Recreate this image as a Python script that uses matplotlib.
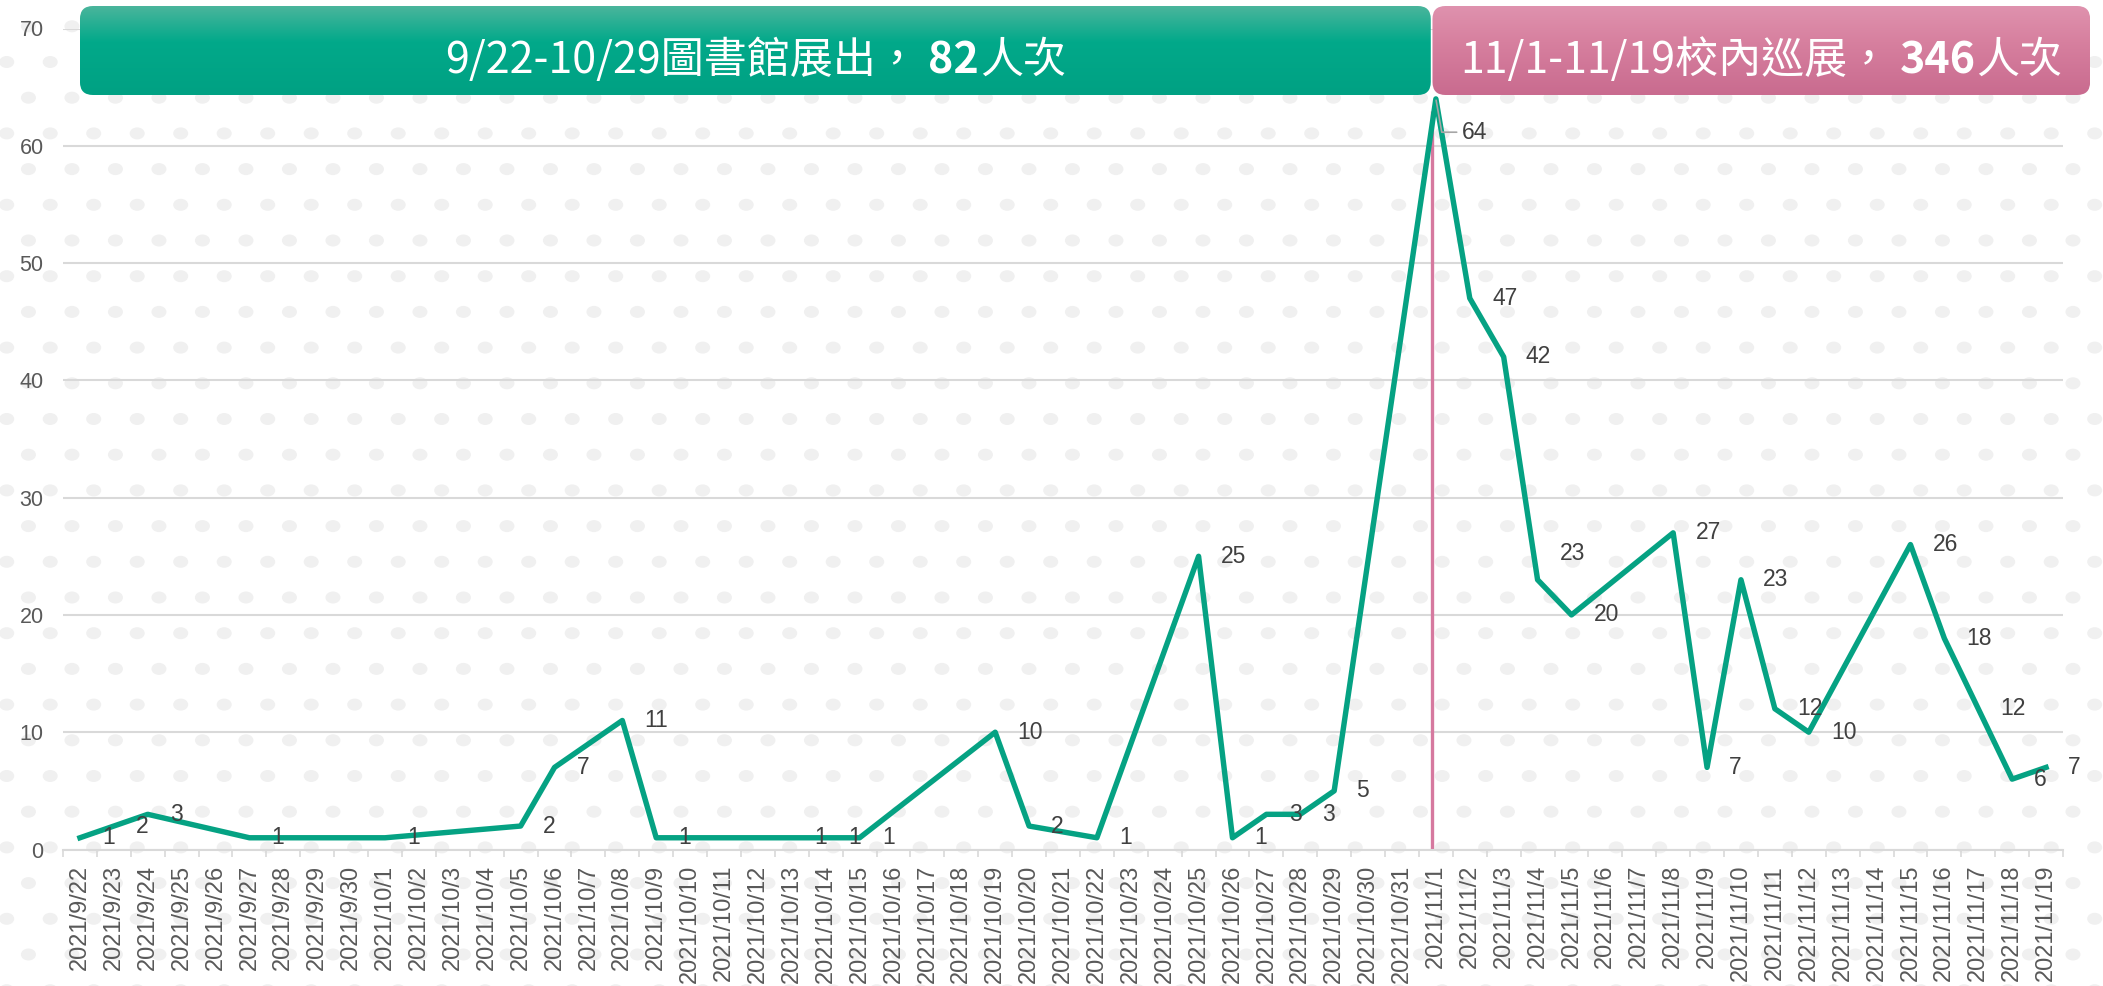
import numpy as np
import pandas as pd
import matplotlib
matplotlib.use("Agg")
import matplotlib.pyplot as plt
from matplotlib.patches import FancyBboxPatch
from matplotlib.collections import EllipseCollection
from matplotlib.colors import to_rgb

W, H = 2103, 986

# category axis: every day of the exhibition period
all_days = pd.date_range("2021-09-22", "2021-11-19", freq="D")
day_labels = [f"{d.year}/{d.month}/{d.day}" for d in all_days]

# days that have visitor counts
visit_days = ["2021/9/22", "2021/9/23", "2021/9/24", "2021/9/27", "2021/10/1",
              "2021/10/5", "2021/10/6", "2021/10/8", "2021/10/9", "2021/10/13",
              "2021/10/14", "2021/10/15", "2021/10/19", "2021/10/20", "2021/10/22",
              "2021/10/25", "2021/10/26", "2021/10/27", "2021/10/28", "2021/10/29",
              "2021/11/1", "2021/11/2", "2021/11/3", "2021/11/4", "2021/11/5",
              "2021/11/8", "2021/11/9", "2021/11/10", "2021/11/11", "2021/11/12",
              "2021/11/15", "2021/11/16", "2021/11/17", "2021/11/18", "2021/11/19"]
visits = [1, 2, 3, 1, 1,
          2, 7, 11, 1, 1,
          1, 1, 10, 2, 1,
          25, 1, 3, 3, 5,
          64, 47, 42, 23, 20,
          27, 7, 23, 12, 10,
          26, 18, 12, 6, 7]

split_day = "2021/11/1"
header_left = ["9/22-10/29圖書館展出，", "82", "人次"]
header_right = ["11/1-11/19校內巡展，", "346", "人次"]

green = "#05a283"
pink = "#d6799f"
grid_c = "#d9d9d9"

fig = plt.figure(figsize=(W / 100, H / 100), dpi=100, facecolor="white")

# dotted background
bg = fig.add_axes([0, 0, 1, 1], zorder=0)
bg.set_xlim(0, W)
bg.set_ylim(H, 0)
bg.axis("off")
pts = []
for k in range(-2, 28):
    y0 = 62 + 35.7 * k
    x0 = 6.7 + (21.75 if k % 2 else 0)
    for xx in np.arange(x0, W + 20, 43.5):
        pts.append((xx, y0))
pts = np.array(pts)
dots = EllipseCollection(widths=15, heights=12, angles=0, units="xy",
                         offsets=pts, offset_transform=bg.transData,
                         facecolors="#f0f0f0", edgecolors="none")
bg.add_collection(dots)

# main chart
ax = fig.add_axes([63 / W, (H - 849.5) / H, 2000 / W, 821 / H], zorder=1)
ax.set_facecolor("none")
xs = [day_labels.index(d) for d in visit_days]
split_x = day_labels.index(split_day)

ax.vlines(split_x - 0.1, 0, 63, color=pink, lw=2.4, zorder=2)
ax.plot(xs, visits, color=green, lw=3.9, solid_joinstyle="round", zorder=3)

for x, v in zip(xs, visits):
    dx, dy = 16, 0
    if v == 64:
        ax.annotate(str(v), (x, v), xytext=(19, -24), textcoords="offset points",
                    ha="left", va="center", fontsize=16.5, color="#404040",
                    family="Liberation Sans",
                    arrowprops=dict(arrowstyle="-", color="#a6a6a6", lw=1.2,
                                    shrinkA=2, shrinkB=1,
                                    connectionstyle="angle,angleA=0,angleB=100,rad=0"))
        continue
    if day_labels[x] == "2021/11/4":
        dy = 19
    ax.annotate(str(v), (x, v), xytext=(dx, dy), textcoords="offset points",
                ha="left", va="center", fontsize=16.5, color="#404040",
                family="Liberation Sans", zorder=4)

ax.set_xlim(-0.5, len(day_labels) - 0.5)
ax.set_ylim(0, 70)
ax.set_yticks(range(0, 71, 10))
ax.yaxis.grid(True, color=grid_c, lw=1.5)
ax.set_axisbelow(True)
ax.set_xticks(range(len(day_labels)))
ax.set_xticklabels(day_labels, rotation=90, fontsize=17, color="#595959",
                   family="Liberation Sans")
ax.set_xticks(np.arange(-0.5, len(day_labels)), minor=True)
ax.tick_params(axis="x", which="major", length=0, pad=11)
ax.tick_params(axis="x", which="minor", length=5, width=1.2, color=grid_c)
ax.tick_params(axis="y", length=0, pad=14, labelsize=15.5, labelcolor="#595959")
for t in ax.get_yticklabels():
    t.set_family("Liberation Sans")
for s in ["top", "right", "left"]:
    ax.spines[s].set_visible(False)
ax.spines["bottom"].set_color(grid_c)
ax.spines["bottom"].set_linewidth(1.5)

# header boxes, in pixel coordinates
top = fig.add_axes([0, 0, 1, 1], zorder=3)
top.set_xlim(0, W)
top.set_ylim(H, 0)
top.axis("off")
top.set_facecolor("none")


def px(xval):
    return ax.transData.transform((xval, 0))[0]


def grad_box(x0, x1, y0, y1, c_top, c_mid, c_bot):
    patch = FancyBboxPatch((x0, y0), x1 - x0, y1 - y0,
                           boxstyle="round,pad=0,rounding_size=13",
                           fc="none", ec="none")
    top.add_patch(patch)
    n = 200
    t = np.linspace(0, 1, n)[:, None]
    ct, cm, cb = (np.array(to_rgb(c)) for c in (c_top, c_mid, c_bot))
    img = np.where(t < 0.4, ct + (cm - ct) * (t / 0.4), cm + (cb - cm) * ((t - 0.4) / 0.6))
    img = np.repeat(img[:, None, :], 2, axis=1)
    im = top.imshow(img, extent=(x0, x1, y1, y0), aspect="auto", zorder=1,
                    interpolation="bilinear")
    im.set_clip_path(patch)


def header_text(runs, xc, ybase, size):
    objs = []
    for i, s in enumerate(runs):
        objs.append(top.text(0, ybase, s, fontsize=size, color="white",
                             fontweight="bold" if i == 1 else "normal",
                             family="Noto Sans CJK TC", ha="left", va="baseline",
                             zorder=2))
    fig.canvas.draw()
    r = fig.canvas.get_renderer()
    widths = [o.get_window_extent(r).width for o in objs]
    gaps = [size * 0.3, size * 0.03, 0]
    total = sum(widths) + sum(gaps)
    x = xc - total / 2
    for o, w, g in zip(objs, widths, gaps):
        o.set_x(x)
        x += w + g


gx0, gx1 = px(0), px(split_x - 0.15)
rx0, rx1 = px(split_x - 0.1), px(len(day_labels) + 0.3)
grad_box(gx0, gx1, 6, 95, "#4ab59c", "#02a98a", "#00a183")
grad_box(rx0, rx1, 6, 95, "#df92ae", "#d7809f", "#c96b8f")
top.set_xlim(0, W)
top.set_ylim(H, 0)
header_text(header_left, (gx0 + gx1) / 2, 73, 31)
header_text(header_right, (rx0 + rx1) / 2, 73, 31)

fig.savefig("out.png", dpi=100, facecolor="white")
